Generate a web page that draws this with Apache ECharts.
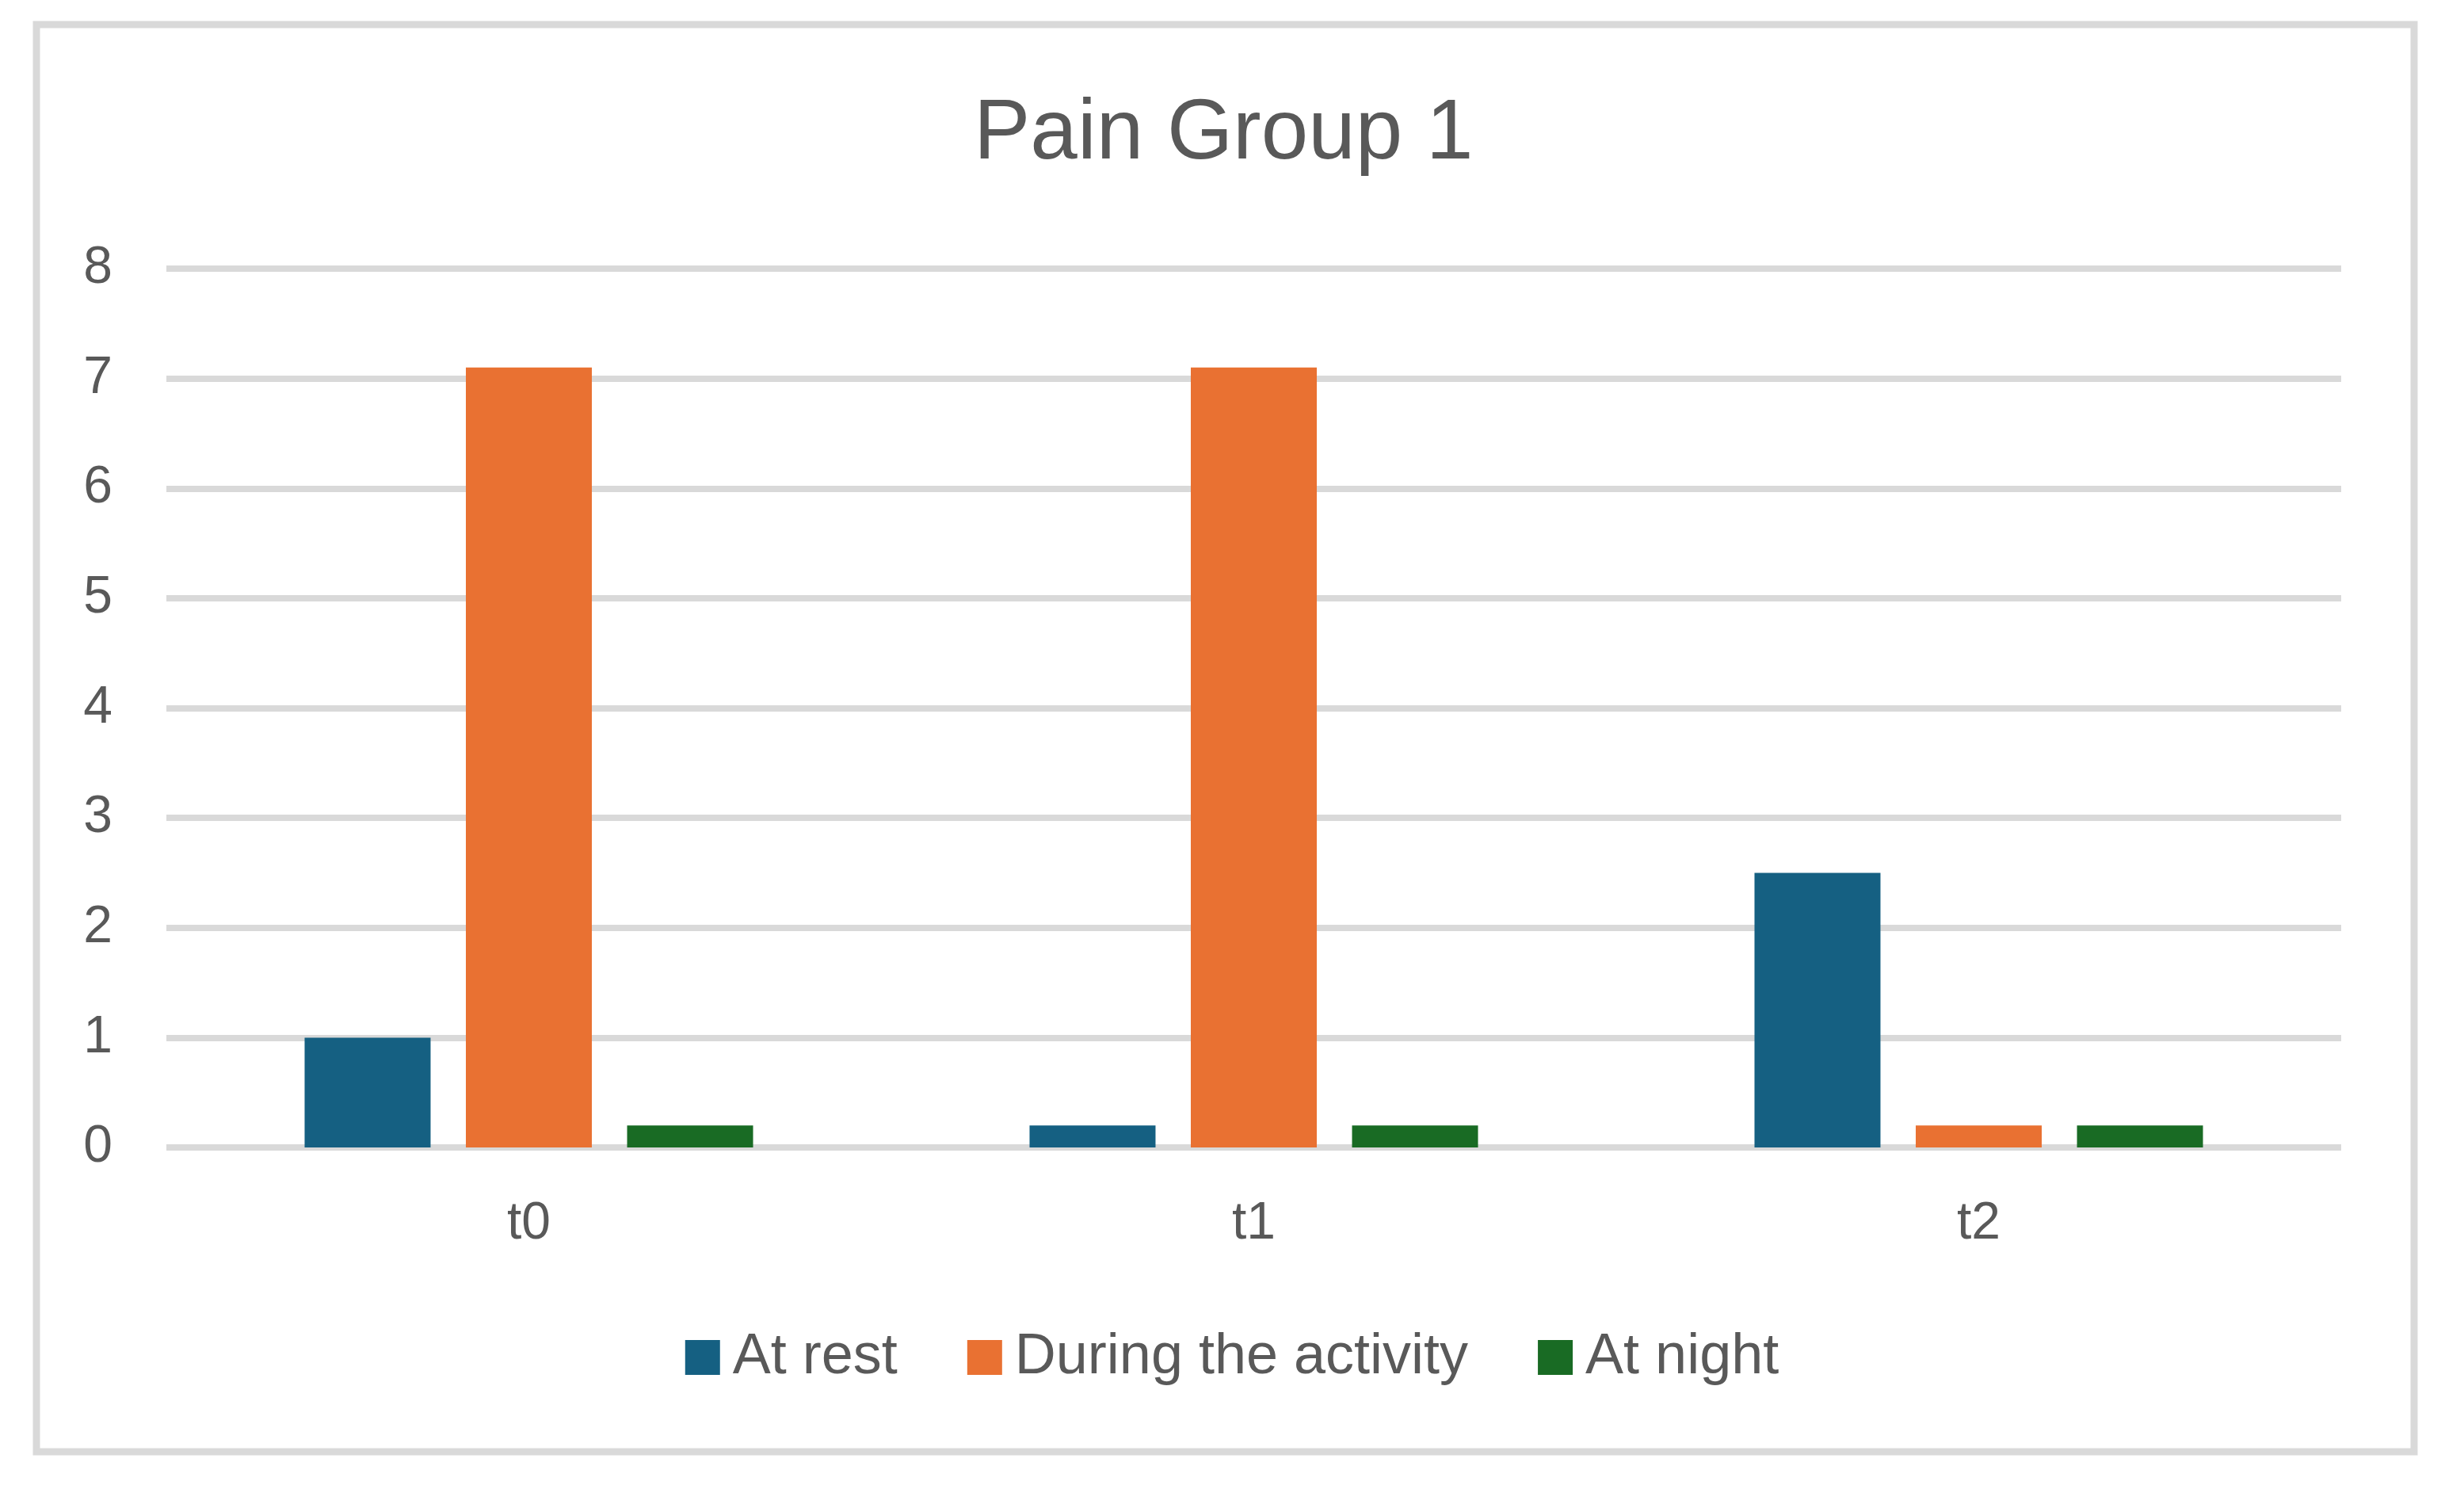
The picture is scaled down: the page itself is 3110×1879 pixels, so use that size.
<!DOCTYPE html>
<html>
<head>
<meta charset="utf-8">
<script src="https://cdn.jsdelivr.net/npm/echarts@6/dist/echarts.min.js"></script>
<style>
html,body{margin:0;padding:0;background:#fff;}
#chart{width:3110px;height:1879px;}
</style>
</head>
<body>
<div id="chart"></div>
<script>
const titleText = 'Pain Group 1';
const categories = ['t0', 't1', 't2'];
const seriesNames = ['At rest', 'During the activity', 'At night'];
const atRest = [1, 0.2, 2.5];
const duringActivity = [7.1, 7.1, 0.2];
const atNight = [0.2, 0.2, 0.2];
const yTicks = [0, 1, 2, 3, 4, 5, 6, 7, 8];

const colors = ['#156082', '#E97132', '#196B24'];
const textColor = '#595959';
const fontFamily = '"Liberation Sans", Arial, sans-serif';

const chart = echarts.init(document.getElementById('chart'), null, {renderer: 'canvas'});
const values = [atRest, duringActivity, atNight];

chart.setOption({
  backgroundColor: '#ffffff',
  animation: false,
  color: colors,
  title: {
    text: titleText,
    left: 1224,
    top: 112,
    textStyle: {fontFamily: fontFamily, fontSize: 107, fontWeight: 'normal', color: textColor}
  },
  graphic: [{
    type: 'rect',
    shape: {x: 46, y: 31, width: 3001, height: 1801},
    style: {fill: 'none', stroke: '#d9d9d9', lineWidth: 9},
    z: -10
  }],
  legend: {
    data: seriesNames,
    left: 'center',
    top: 1672,
    icon: 'rect',
    itemWidth: 44,
    itemHeight: 44,
    itemGap: 88,
    textStyle: {fontFamily: fontFamily, fontSize: 72, color: textColor, padding: [0, 0, 0, 11]}
  },
  grid: {left: 210, right: 155, top: 339, bottom: 431, containLabel: false},
  xAxis: {
    type: 'category',
    data: categories,
    axisLine: {show: false},
    axisTick: {show: false},
    axisLabel: {fontFamily: fontFamily, fontSize: 66, color: textColor, margin: 64}
  },
  yAxis: {
    type: 'value',
    min: yTicks[0],
    max: yTicks[yTicks.length - 1],
    interval: 1,
    axisLine: {show: false},
    axisTick: {show: false},
    axisLabel: {fontFamily: fontFamily, fontSize: 66, color: textColor, margin: 68},
    splitLine: {show: true, lineStyle: {color: '#d9d9d9', width: 8}}
  },
  series: seriesNames.map((name, i) => ({
    name: name,
    type: 'bar',
    data: values[i],
    barWidth: 159,
    barGap: '28%',
    itemStyle: {color: colors[i]}
  }))
});
</script>
</body>
</html>
